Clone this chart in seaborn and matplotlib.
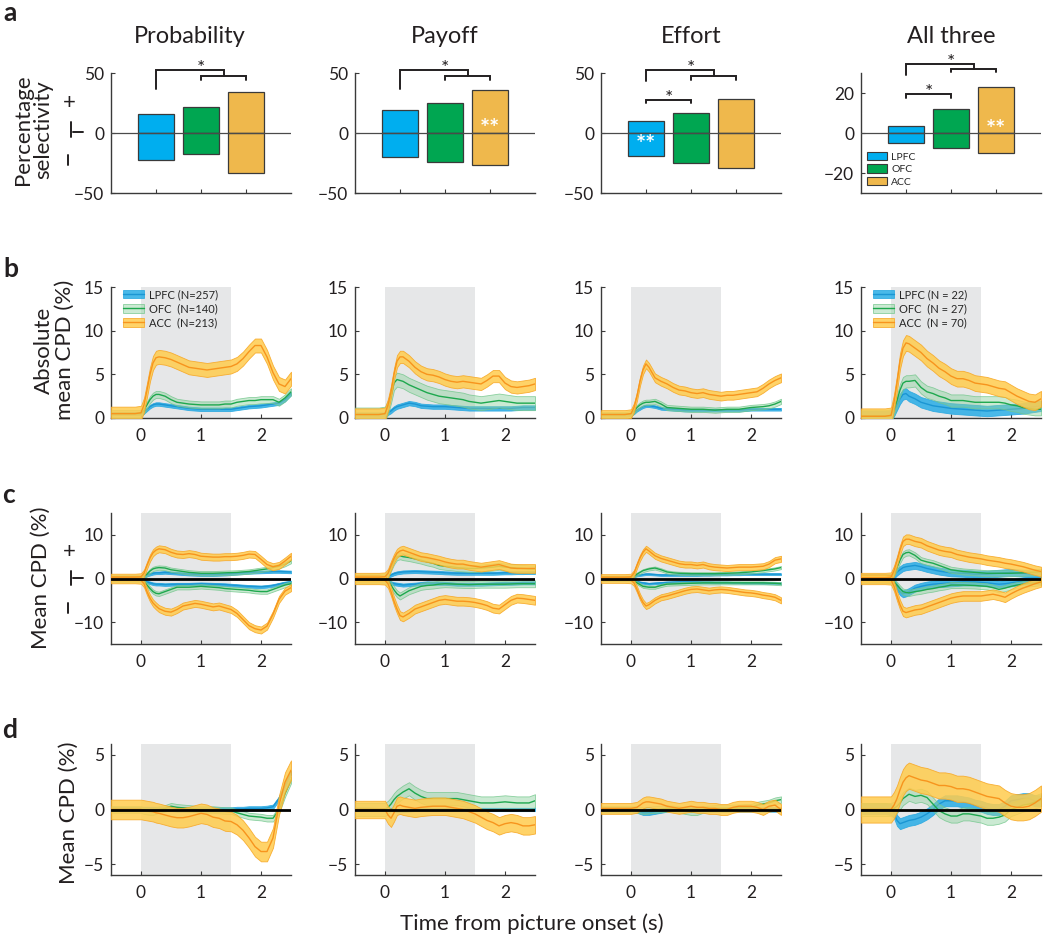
import numpy as np
import pandas as pd
import matplotlib
matplotlib.use("Agg")
import matplotlib.pyplot as plt
import seaborn as sns
from matplotlib.patches import Patch
from matplotlib.lines import Line2D

# ---------------- data ----------------
regions = ["LPFC", "OFC", "ACC"]
attributes = ["Probability", "Payoff", "Effort", "All three"]

# row a: percentage selectivity (+ / -)
sel_prob_pos = [16.0, 22.0, 34.5]
sel_prob_neg = [-22.7, -17.7, -33.0]
sel_pay_pos = [19.5, 25.3, 36.0]
sel_pay_neg = [-19.7, -23.8, -26.5]
sel_eff_pos = [10.0, 16.7, 28.6]
sel_eff_neg = [-18.8, -25.3, -29.4]
sel_all_pos = [3.5, 12.2, 23.0]
sel_all_neg = [-5.1, -7.3, -10.0]

# time axis (s from picture onset)
T = [-0.5, -0.3, -0.1, 0.0, 0.05, 0.1, 0.15, 0.2, 0.25, 0.3,
     0.4, 0.5, 0.6, 0.7, 0.8, 0.9, 1.0, 1.1, 1.2, 1.3, 1.4, 1.5,
     1.6, 1.7, 1.8, 1.9, 2.0, 2.1, 2.2, 2.3, 2.4, 2.5]

# row b: absolute mean CPD (%)
b_prob_lpfc = [0.5,0.5,0.5,0.5,0.7,1.0,1.3,1.5,1.6,1.6, 1.5,1.4,1.3,1.2,1.1,1.05,1.0,1.0,1.0,1.0,1.0,1.0, 1.1,1.2,1.3,1.35,1.4,1.5,1.6,1.7,2.1,2.8]
b_prob_ofc = [0.5,0.5,0.5,0.5,0.9,1.5,2.1,2.5,2.7,2.7, 2.5,2.1,1.8,1.7,1.6,1.55,1.5,1.5,1.5,1.5,1.6,1.6, 1.8,1.9,2.0,2.0,2.1,2.1,2.1,1.8,2.3,3.0]
b_prob_acc = [0.5,0.5,0.5,0.6,1.5,3.2,5.0,6.3,6.9,7.0, 6.9,6.7,6.4,6.1,5.8,5.7,5.6,5.5,5.6,5.7,5.8,5.9, 6.2,6.8,7.6,8.3,8.3,7.0,5.2,3.9,3.6,4.5]
b_pay_lpfc = [0.4,0.4,0.4,0.4,0.6,0.8,1.1,1.3,1.4,1.5, 1.7,1.6,1.4,1.35,1.3,1.3,1.3,1.25,1.2,1.15,1.1,1.1, 1.1,1.1,1.1,1.1,1.1,1.1,1.15,1.2,1.2,1.2]
b_pay_ofc = [0.4,0.4,0.4,0.5,1.2,2.5,4.0,4.4,4.3,4.2, 3.8,3.5,3.2,2.9,2.7,2.5,2.4,2.3,2.2,2.1,1.9,1.8, 1.7,1.8,1.9,2.0,1.9,1.8,1.7,1.7,1.7,1.7]
b_pay_acc = [0.4,0.4,0.4,0.5,1.5,3.0,5.0,6.5,7.0,7.0, 6.5,5.8,5.3,5.0,4.9,4.7,4.4,4.2,4.1,4.2,4.1,4.0, 3.9,4.3,4.8,4.8,4.0,3.6,3.5,3.6,3.7,3.9]
b_eff_lpfc = [0.4,0.4,0.4,0.4,0.6,0.9,1.1,1.3,1.4,1.4, 1.3,1.1,1.05,1.0,0.95,0.9,0.9,0.9,0.9,0.9,0.9,0.9, 0.9,0.9,0.9,0.95,1.0,1.0,1.0,1.0,1.0,1.0]
b_eff_ofc = [0.4,0.4,0.4,0.5,0.8,1.2,1.5,1.7,1.8,1.8, 1.9,1.6,1.2,1.15,1.1,1.05,1.0,1.0,1.0,0.95,0.9,0.95, 1.0,1.0,1.0,1.1,1.2,1.25,1.3,1.4,1.6,1.9]
b_eff_acc = [0.4,0.4,0.4,0.5,1.2,2.5,4.2,5.5,6.2,5.8, 4.6,4.2,3.9,3.5,3.2,3.1,2.9,2.8,2.9,2.7,2.6,2.5, 2.6,2.6,2.7,2.8,2.9,3.0,3.4,3.9,4.3,4.6]
b_all_lpfc = [0.2,0.2,0.2,0.3,0.8,1.5,2.2,2.7,2.8,2.5, 2.2,1.8,1.6,1.4,1.3,1.2,1.1,1.05,1.0,0.95,0.9,0.85, 0.8,0.85,0.9,0.95,1.0,1.05,1.1,1.2,1.3,1.4]
b_all_ofc = [0.2,0.2,0.2,0.3,1.0,2.0,3.2,4.0,4.2,4.2, 4.3,3.5,3.0,2.8,2.5,2.3,2.0,2.0,2.0,1.9,1.8,1.8, 1.8,1.8,1.8,1.7,1.5,1.4,1.2,1.1,1.0,1.0]
b_all_acc = [0.2,0.2,0.2,0.3,1.8,4.0,6.5,8.0,8.6,8.5, 8.0,7.5,6.8,6.3,5.7,5.3,4.8,4.5,4.5,4.3,4.0,3.9, 3.8,3.6,3.4,3.3,2.9,2.5,2.2,1.9,1.8,2.2]

# row c: mean CPD (%) of positive / negative neurons
c_prob_lpfc_pos = [0.3,0.3,0.3,0.3,0.5,0.8,1.0,1.2,1.3,1.3, 1.4,1.3,1.2,1.1,1.0,0.95,0.9,0.9,0.9,0.95,1.0,1.1, 1.2,1.3,1.4,1.45,1.5,1.55,1.6,1.6,1.55,1.5]
c_prob_lpfc_neg = [-0.3,-0.3,-0.3,-0.3,-0.5,-0.8,-1.0,-1.2,-1.3,-1.3, -1.4,-1.35,-1.3,-1.3,-1.3,-1.25,-1.2,-1.25,-1.3,-1.35,-1.4,-1.5, -1.6,-1.7,-1.8,-1.85,-1.9,-1.8,-1.6,-1.3,-1.0,-0.8]
c_prob_ofc_pos = [0.3,0.3,0.3,0.3,0.6,1.0,1.7,2.2,2.4,2.5, 2.4,2.0,1.8,1.6,1.4,1.3,1.2,1.2,1.2,1.25,1.3,1.35, 1.4,1.5,1.6,1.8,2.0,2.2,2.5,2.8,3.3,4.0]
c_prob_ofc_neg = [-0.3,-0.3,-0.3,-0.3,-0.8,-1.5,-2.3,-3.0,-3.4,-3.5, -3.0,-2.5,-2.0,-2.0,-2.0,-1.9,-1.8,-1.9,-2.0,-2.1,-2.3,-2.4, -2.5,-2.6,-2.7,-2.9,-3.0,-3.0,-2.5,-2.0,-1.5,-1.2]
c_prob_acc_pos = [0.3,0.3,0.3,0.4,1.2,3.0,4.7,5.9,6.5,6.8, 6.6,6.0,5.6,5.5,5.7,5.5,5.1,5.0,4.9,4.9,5.0,5.0, 5.1,5.3,5.6,5.5,4.4,3.2,2.7,3.0,4.0,5.1]
c_prob_acc_neg = [-0.3,-0.3,-0.3,-0.4,-1.2,-3.0,-4.5,-5.6,-6.3,-6.9, -7.5,-7.7,-7.1,-6.3,-6.0,-5.7,-5.9,-6.2,-6.5,-6.3,-6.7,-7.1, -8.0,-9.4,-10.8,-11.5,-11.8,-10.9,-8.2,-4.8,-2.9,-2.1]
c_pay_lpfc_pos = [0.3,0.3,0.3,0.3,0.5,0.8,1.1,1.3,1.4,1.5, 1.55,1.6,1.55,1.5,1.45,1.4,1.3,1.25,1.2,1.2,1.2,1.2, 1.2,1.2,1.2,1.25,1.3,1.3,1.35,1.35,1.4,1.4]
c_pay_lpfc_neg = [-0.3,-0.3,-0.3,-0.3,-0.6,-1.0,-1.2,-1.3,-1.4,-1.5, -1.4,-1.3,-1.15,-1.0,-1.05,-1.1,-1.1,-1.2,-1.3,-1.3,-1.3,-1.3, -1.3,-1.25,-1.2,-1.15,-1.1,-1.1,-1.05,-1.0,-1.0,-1.0]
c_pay_ofc_pos = [0.3,0.3,0.3,0.3,1.0,2.5,4.0,5.0,5.2,5.0, 4.8,4.5,4.2,3.8,3.5,3.0,2.8,2.7,2.5,2.4,2.3,2.3, 2.4,2.5,2.6,2.8,2.6,2.5,2.4,2.3,2.2,2.2]
c_pay_ofc_neg = [-0.3,-0.3,-0.3,-0.3,-0.7,-1.5,-2.6,-3.5,-4.0,-3.6, -2.8,-2.3,-1.8,-1.6,-1.5,-1.3,-1.2,-1.25,-1.3,-1.35,-1.4,-1.35, -1.3,-1.3,-1.3,-1.3,-1.3,-1.25,-1.2,-1.2,-1.2,-1.2]
c_pay_acc_pos = [0.3,0.3,0.3,0.4,1.2,3.0,4.6,5.8,6.3,6.5, 6.0,5.5,5.0,4.8,4.5,4.2,3.8,3.5,3.3,3.3,3.0,2.8, 2.6,2.8,3.0,3.2,2.8,2.4,2.3,2.3,2.3,2.3]
c_pay_acc_neg = [-0.3,-0.3,-0.3,-0.4,-1.2,-3.0,-5.2,-7.0,-8.5,-8.8, -8.0,-7.0,-6.5,-6.0,-5.5,-5.0,-4.8,-5.0,-5.2,-5.2,-5.3,-5.5, -5.8,-6.2,-6.8,-7.0,-6.0,-5.0,-4.5,-4.6,-4.8,-5.0]
c_eff_lpfc_pos = [0.3,0.3,0.3,0.3,0.5,0.7,0.8,0.9,1.0,1.0, 0.9,0.8,0.8,0.8,0.8,0.8,0.8,0.8,0.85,0.85,0.9,0.9, 0.9,0.95,0.95,1.0,1.0,1.0,1.0,1.0,1.0,1.0]
c_eff_lpfc_neg = [-0.3,-0.3,-0.3,-0.3,-0.5,-0.7,-0.9,-1.0,-1.1,-1.2, -1.1,-1.0,-0.9,-0.85,-0.8,-0.8,-0.8,-0.8,-0.85,-0.85,-0.9,-0.9, -0.9,-0.95,-0.95,-1.0,-1.0,-1.0,-1.05,-1.05,-1.1,-1.1]
c_eff_ofc_pos = [0.3,0.3,0.3,0.3,0.6,1.0,1.4,1.8,2.0,2.2, 2.4,2.0,1.5,1.3,1.2,1.15,1.1,1.1,1.1,1.1,1.1,1.15, 1.2,1.25,1.3,1.4,1.5,1.65,1.8,2.0,2.2,2.5]
c_eff_ofc_neg = [-0.3,-0.3,-0.3,-0.3,-0.6,-1.0,-1.4,-1.8,-1.9,-2.0, -2.0,-1.6,-1.3,-1.25,-1.2,-1.15,-1.1,-1.05,-1.0,-1.0,-1.0,-1.0, -1.0,-1.0,-1.0,-1.0,-1.0,-1.0,-1.0,-1.05,-1.1,-1.2]
c_eff_acc_pos = [0.3,0.3,0.3,0.4,1.2,3.0,4.7,6.0,6.8,6.3, 5.2,4.6,4.2,3.8,3.4,3.2,3.2,3.0,3.2,2.8,2.6,2.5, 2.4,2.5,2.6,2.6,2.6,2.7,2.8,3.3,4.2,4.5]
c_eff_acc_neg = [-0.3,-0.3,-0.3,-0.4,-1.0,-2.5,-4.2,-5.5,-6.3,-6.0, -5.0,-4.3,-4.0,-3.6,-3.2,-2.8,-2.5,-2.4,-2.6,-2.8,-2.6,-2.5, -2.6,-2.8,-3.0,-3.2,-3.3,-3.5,-3.8,-4.0,-4.3,-5.0]
c_all_lpfc_pos = [0.2,0.2,0.2,0.3,0.8,1.5,2.0,2.5,2.7,2.8, 3.0,2.7,2.3,2.0,1.7,1.5,1.3,1.25,1.2,1.1,1.0,1.0, 1.0,1.1,1.2,1.3,1.4,1.3,1.2,1.1,1.05,1.0]
c_all_lpfc_neg = [-0.2,-0.2,-0.2,-0.3,-1.0,-2.0,-3.0,-3.5,-3.3,-3.0, -2.2,-1.8,-1.5,-1.3,-1.2,-1.1,-1.0,-0.9,-0.8,-0.8,-0.8,-0.9, -1.0,-1.15,-1.3,-1.2,-1.0,-0.8,-0.6,-0.5,-0.45,-0.4]
c_all_ofc_pos = [0.2,0.2,0.2,0.3,1.2,2.5,4.2,5.5,5.9,6.0, 5.3,4.2,3.8,3.5,3.0,2.5,2.0,1.8,1.6,1.5,1.4,1.3, 1.2,1.2,1.2,1.2,1.2,1.25,1.3,1.4,1.45,1.5]
c_all_ofc_neg = [-0.2,-0.2,-0.2,-0.3,-0.8,-1.5,-2.3,-3.0,-3.2,-3.3, -3.0,-2.8,-2.5,-2.3,-2.0,-1.8,-1.5,-1.5,-1.5,-1.55,-1.6,-1.7, -1.8,-2.1,-2.5,-2.2,-1.8,-1.5,-1.3,-1.1,-1.0,-0.8]
c_all_acc_pos = [0.2,0.2,0.2,0.3,1.8,4.0,6.5,8.5,9.0,9.0, 8.5,8.2,7.5,7.0,6.5,6.2,6.0,5.5,5.2,4.9,4.7,4.5, 4.2,4.0,3.8,3.5,3.3,3.0,2.7,2.3,1.9,1.6]
c_all_acc_neg = [-0.2,-0.2,-0.2,-0.3,-1.8,-4.0,-6.0,-7.5,-7.8,-7.6, -7.2,-7.0,-6.5,-6.0,-5.5,-5.0,-4.5,-4.2,-4.0,-4.0,-4.0,-4.0, -3.8,-3.6,-3.9,-4.3,-3.5,-2.8,-2.2,-1.7,-1.2,-0.8]

# row d: mean CPD (%)
d_prob_lpfc = [0.05,0.05,0.05,0.05,0.05,0.05,0.05,0.05,0.05,0.05, 0.05,0.05,0.0,0.0,0.0,0.0,0.0,0.0,0.0,0.0,0.0,0.0, 0.05,0.05,0.1,0.1,0.1,0.15,0.25,1.0,2.2,3.4]
d_prob_ofc = [0.0,0.0,0.0,0.0,-0.1,-0.15,-0.2,-0.2,-0.1,0.0, 0.1,0.3,0.2,0.15,0.1,0.05,0.0,0.0,0.0,-0.05,-0.1,-0.1, -0.3,-0.45,-0.6,-0.65,-0.7,-0.8,-0.8,-0.05,1.45,2.7]
d_prob_acc = [0.0,0.0,0.0,0.0,-0.05,-0.1,-0.15,-0.2,-0.3,-0.35, -0.5,-0.65,-0.75,-0.75,-0.65,-0.5,-0.35,-0.45,-0.7,-0.8,-1.05,-1.1, -1.4,-1.9,-2.6,-3.4,-3.85,-3.85,-2.6,0.4,2.5,3.6]
d_pay_lpfc = [0.05,0.05,0.0,0.0,0.0,0.0,-0.05,-0.1,-0.1,-0.1, -0.05,0.0,0.0,0.0,0.0,0.0,0.0,0.0,0.0,0.0,0.0,0.0, 0.0,0.0,0.0,0.0,0.0,0.0,0.0,0.0,0.0,0.0]
d_pay_ofc = [0.0,0.0,0.0,0.0,0.2,0.5,0.9,1.2,1.4,1.6, 1.9,1.5,1.2,1.0,1.0,1.0,1.0,1.0,1.0,0.9,0.8,0.7, 0.6,0.6,0.6,0.65,0.7,0.65,0.6,0.6,0.6,0.8]
d_pay_acc = [0.0,0.0,0.0,0.0,-0.5,-0.8,-0.3,0.3,0.4,0.3, 0.2,0.1,0.2,0.25,0.3,0.3,0.3,0.2,0.1,0.0,-0.2,-0.4, -0.7,-1.0,-1.2,-1.5,-1.3,-1.2,-1.3,-1.5,-1.5,-1.4]
d_eff_lpfc = [0.0,0.0,0.0,0.0,-0.05,-0.1,-0.2,-0.3,-0.3,-0.3, -0.2,-0.1,0.0,0.0,0.0,0.0,0.0,0.0,0.0,0.0,0.0,0.0, 0.0,0.0,0.0,0.0,0.0,0.0,0.0,0.0,0.0,0.0]
d_eff_ofc = [0.0,0.0,0.0,0.0,0.0,0.0,-0.05,-0.1,-0.1,-0.05, 0.0,0.05,0.1,0.05,0.0,-0.1,-0.2,-0.2,0.0,0.05,0.1,0.1, 0.1,0.15,0.15,0.2,0.2,0.4,0.5,0.6,0.8,0.9]
d_eff_acc = [0.1,0.1,0.1,0.1,0.15,0.2,0.4,0.6,0.7,0.7, 0.6,0.5,0.3,0.2,0.1,0.2,0.3,0.2,0.2,0.1,0.1,0.0, 0.0,0.2,0.3,0.3,0.3,0.2,0.0,0.3,0.4,0.0]
d_all_lpfc = [0.1,0.1,0.1,0.0,-0.3,-1.0,-1.3,-1.2,-1.1,-1.0, -0.9,-0.7,-0.4,0.0,0.5,0.8,0.8,0.8,0.7,0.6,0.4,0.3, 0.1,0.0,0.0,0.3,0.8,0.9,1.0,1.0,0.8,0.8]
d_all_ofc = [0.0,0.0,0.0,0.0,0.1,0.3,0.6,1.0,1.2,1.4, 1.2,1.3,1.1,0.5,-0.1,-0.4,-0.6,-0.6,-0.4,-0.4,-0.5,-0.6, -0.8,-0.8,-0.7,-0.5,0.0,0.2,0.4,0.5,0.7,0.9]
d_all_acc = [0.0,0.0,0.0,0.0,0.4,1.0,1.8,2.5,2.9,3.1, 2.9,2.7,2.6,2.4,2.2,2.2,2.1,1.9,1.9,1.8,1.6,1.4, 1.2,1.1,1.0,0.6,0.3,0.2,0.2,0.3,0.6,1.0]

# s.e.m. half-widths per attribute (Probability, Payoff, Effort, All three)
err_b_lpfc = [0.2, 0.25, 0.15, 0.6]
err_b_ofc = [0.4, 0.8, 0.3, 0.7]
err_b_acc = [0.8, 0.7, 0.5, 0.9]
err_c_lpfc = [0.3, 0.35, 0.2, 0.8]
err_c_ofc = [0.5, 0.8, 0.35, 0.7]
err_c_acc = [0.8, 1.0, 0.7, 1.1]
err_d_lpfc = [0.2, 0.15, 0.2, 0.5]
err_d_ofc = [0.3, 0.6, 0.3, 0.6]
err_d_acc = [0.9, 0.8, 0.5, 1.2]

legend_prob = ["LPFC (N=257)", "OFC  (N=140)", "ACC  (N=213)"]
legend_all = ["LPFC (N = 22)", "OFC  (N = 27)", "ACC  (N = 70)"]

# ---------------- assemble ----------------
sel_pos = [sel_prob_pos, sel_pay_pos, sel_eff_pos, sel_all_pos]
sel_neg = [sel_prob_neg, sel_pay_neg, sel_eff_neg, sel_all_neg]
row_b = [[b_prob_lpfc, b_prob_ofc, b_prob_acc], [b_pay_lpfc, b_pay_ofc, b_pay_acc],
         [b_eff_lpfc, b_eff_ofc, b_eff_acc], [b_all_lpfc, b_all_ofc, b_all_acc]]
row_c_pos = [[c_prob_lpfc_pos, c_prob_ofc_pos, c_prob_acc_pos], [c_pay_lpfc_pos, c_pay_ofc_pos, c_pay_acc_pos],
             [c_eff_lpfc_pos, c_eff_ofc_pos, c_eff_acc_pos], [c_all_lpfc_pos, c_all_ofc_pos, c_all_acc_pos]]
row_c_neg = [[c_prob_lpfc_neg, c_prob_ofc_neg, c_prob_acc_neg], [c_pay_lpfc_neg, c_pay_ofc_neg, c_pay_acc_neg],
             [c_eff_lpfc_neg, c_eff_ofc_neg, c_eff_acc_neg], [c_all_lpfc_neg, c_all_ofc_neg, c_all_acc_neg]]
row_d = [[d_prob_lpfc, d_prob_ofc, d_prob_acc], [d_pay_lpfc, d_pay_ofc, d_pay_acc],
         [d_eff_lpfc, d_eff_ofc, d_eff_acc], [d_all_lpfc, d_all_ofc, d_all_acc]]
err_b = [err_b_lpfc, err_b_ofc, err_b_acc]
err_c = [err_c_lpfc, err_c_ofc, err_c_acc]
err_d = [err_d_lpfc, err_d_ofc, err_d_acc]

# ---------------- style ----------------
sns.set_theme(style="ticks")
plt.rcParams['font.family'] = ['Lato', 'DejaVu Sans']
plt.rcParams['axes.unicode_minus'] = True
INK = '#231f20'

BAR_COL = {"LPFC": "#00aeef", "OFC": "#00a651", "ACC": "#efb84c"}
FILL = {"LPFC": (0.16, 0.68, 0.90, 0.85), "OFC": (0.55, 0.82, 0.62, 0.45), "ACC": (1.0, 0.80, 0.30, 0.85)}
EDGE = {"LPFC": (0.16, 0.66, 0.88, 0.9), "OFC": (0.45, 0.78, 0.55, 0.8), "ACC": (0.97, 0.66, 0.15, 0.9)}
LINE = {"LPFC": "#1b96d3", "OFC": "#1ea84e", "ACC": "#f7941d"}
ZO = {"LPFC": 3, "OFC": 4, "ACC": 5}
SHADE = '#e6e7e8'

W, H = 1050.0, 936.0
col_left = [111, 355, 601, 861]
row_top = [73, 287, 513, 744]
row_h = [120, 131, 131, 131]
AW = 180


def rect(c, r):
    return [col_left[c] / W, 1 - (row_top[r] + row_h[r]) / H, AW / W, row_h[r] / H]


def style_axis(ax):
    sns.despine(ax=ax)
    for s in ['left', 'bottom']:
        ax.spines[s].set_color('#3a3a3a')
        ax.spines[s].set_linewidth(1.0)
    ax.tick_params(direction='in', length=3, width=0.8, color='#3a3a3a',
                   labelcolor=INK, labelsize=12.5, pad=5)
    ax.set_xlabel('')
    ax.set_ylabel('')
    ax.set_facecolor('none')


def sign_marks(ax, r):
    """'+ | -' decoration beside the y axis (rows a and c)."""
    tr = ax.transAxes
    h = row_h[r]
    bot = row_top[r] + h
    if r == 0:
        yp, b0, b1, yz, m0, m1 = 103, 122, 137, 132, 155, 165
    else:
        yp, b0, b1, yz, m0, m1 = 552, 571, 585, 578, 603, 613
    f = lambda y: (bot - y) / h
    ax.text((69 - 111) / AW, f(yp), '+', transform=tr, ha='center', va='center',
            fontsize=16, color=INK, clip_on=False)
    ax.plot([(71 - 111) / AW] * 2, [f(b0), f(b1)], transform=tr, color=INK, lw=1.4, clip_on=False)
    ax.plot([(73 - 111) / AW, (83 - 111) / AW], [f(yz)] * 2, transform=tr, color=INK, lw=1.4, clip_on=False)
    ax.plot([(68 - 111) / AW] * 2, [f(m0), f(m1)], transform=tr, color=INK, lw=1.4, clip_on=False)


def bracket(ax, xs, ys):
    ax.plot(xs, ys, color=INK, lw=1.4, clip_on=False, zorder=6, solid_joinstyle='miter')


def star(ax, x, y, text='*', size=14, color=INK, weight='normal', dy=-3):
    ax.annotate(text, xy=(x, y), xytext=(0, dy), textcoords='offset points', ha='center',
                va='baseline', fontsize=size, color=color, fontweight=weight,
                annotation_clip=False, zorder=7)


fig = plt.figure(figsize=(10.5, 9.36), dpi=100)

# ---------------- row a ----------------
for i, attr in enumerate(attributes):
    ax = fig.add_axes(rect(i, 0))
    df = pd.DataFrame({'region': regions, 'pos': sel_pos[i], 'neg': sel_neg[i]})
    for col in ['pos', 'neg']:
        sns.barplot(data=df, x='region', y=col, hue='region', order=regions, hue_order=regions,
                    palette=BAR_COL, saturation=1, width=0.8, edgecolor='#3a3a3a', linewidth=0.9,
                    legend=False, ax=ax, zorder=2)
    ax.axhline(0, color='#4a4a4a', lw=0.9, zorder=3)
    ax.set_xlim(-1, 3)
    style_axis(ax)
    ax.set_xticks([0, 1, 2])
    ax.set_xticklabels([])
    if i < 3:
        ax.set_ylim(-50, 50)
        ax.set_yticks([-50, 0, 50])
    else:
        ax.set_ylim(-30, 30)
        ax.set_yticks([-20, 0, 20])
    tx = (190 - 111) / AW if i == 0 else 0.5
    ax.text(tx, (193 - 43) / 120, attr, transform=ax.transAxes, ha='center', va='baseline',
            fontsize=17, color=INK)
    if i in (0, 1, 2):
        leg0 = 36.7 if i < 2 else 43
        bracket(ax, [0, 0, 1.5, 1.5], [leg0, 52.6, 52.6, 47.6])
        bracket(ax, [1, 1, 2, 2], [44, 47.6, 47.6, 44])
        star(ax, 1.0, 52.6)
    if i == 2:
        bracket(ax, [0, 0, 1, 1], [24.7, 27.7, 27.7, 24.7])
        star(ax, 0.5, 27.7)
    if i == 3:
        bracket(ax, [0, 0, 1.5, 1.5], [28.9, 34.7, 34.7, 32.0])
        bracket(ax, [1, 1, 2, 2], [30.3, 32.0, 32.0, 30.3])
        star(ax, 1.0, 34.7)
        bracket(ax, [0, 0, 1, 1], [17.6, 19.6, 19.6, 17.6])
        star(ax, 0.5, 19.6)
        handles = [Patch(facecolor=BAR_COL[g], edgecolor='#3a3a3a', linewidth=0.8) for g in regions]
        ax.legend(handles, regions, loc='lower left', bbox_to_anchor=(0.0, 0.0), frameon=False,
                  fontsize=7.5, handlelength=1.9, handleheight=0.9, handletextpad=0.4,
                  labelspacing=0.25, borderaxespad=0.2)
    # white significance stars inside bars
    if i == 1:
        star(ax, 2, 5.8, text='**', size=17, color='white', weight='bold', dy=-8)
    if i == 2:
        star(ax, 0, -7.2, text='**', size=17, color='white', weight='bold', dy=-8)
    if i == 3:
        star(ax, 2, 3.3, text='**', size=17, color='white', weight='bold', dy=-8)
    if i == 0:
        sign_marks(ax, 0)


# ---------------- rows b, c, d ----------------
def draw_trace(ax, y, err, reg):
    y = np.asarray(y, dtype=float)
    ax.fill_between(T, y - err, y + err, facecolor=FILL[reg], edgecolor=EDGE[reg],
                    linewidth=0.6, zorder=ZO[reg])
    sns.lineplot(x=T, y=y, ax=ax, color=LINE[reg], lw=1.0, zorder=ZO[reg] + 0.5, legend=False)


for r in (1, 2, 3):
    for i, attr in enumerate(attributes):
        ax = fig.add_axes(rect(i, r))
        ax.axvspan(0, 1.5, color=SHADE, lw=0, zorder=0)
        for k, reg in enumerate(regions):
            if r == 1:
                draw_trace(ax, row_b[i][k], err_b[k][i], reg)
            elif r == 2:
                draw_trace(ax, row_c_pos[i][k], err_c[k][i], reg)
                draw_trace(ax, row_c_neg[i][k], err_c[k][i], reg)
            else:
                draw_trace(ax, row_d[i][k], err_d[k][i], reg)
        ax.set_xlim(-0.5, 2.5)
        style_axis(ax)
        ax.set_xticks([0, 1, 2])
        ax.tick_params(axis='x', pad=7)
        if r == 1:
            ax.set_ylim(0, 15)
            ax.set_yticks([0, 5, 10, 15])
        elif r == 2:
            ax.set_ylim(-15, 15)
            ax.set_yticks([-10, 0, 10])
            ax.axhline(0, color='black', lw=2.0, zorder=10)
        else:
            ax.set_ylim(-6, 6)
            ax.set_yticks([-5, 0, 5])
            ax.axhline(0, color='black', lw=2.0, zorder=10)
        if r == 1 and i in (0, 3):
            labs = legend_prob if i == 0 else legend_all
            hs = [(Patch(facecolor=FILL[g], edgecolor=EDGE[g], linewidth=0.6),
                   Line2D([], [], color=LINE[g], lw=1.0)) for g in regions]
            ax.legend(hs, labs, loc='upper left', bbox_to_anchor=(0.04, 1.02), frameon=False,
                      fontsize=8, handlelength=1.9, handleheight=0.8, handletextpad=0.5,
                      labelspacing=0.3, borderaxespad=0.0)
        if r == 2 and i == 0:
            sign_marks(ax, 2)

# ---------------- figure labels ----------------
fig.text(33 / W, 1 - 130 / H, 'Percentage\nselectivity', rotation=90, ha='center', va='center',
         fontsize=16, color=INK, linespacing=1.05)
fig.text(54 / W, 1 - 350 / H, 'Absolute\nmean CPD (%)', rotation=90, ha='center', va='center',
         fontsize=16, color=INK, linespacing=1.05)
fig.text(41 / W, 1 - 578 / H, 'Mean CPD (%)', rotation=90, ha='center', va='center',
         fontsize=16, color=INK)
fig.text(69 / W, 1 - 813 / H, 'Mean CPD (%)', rotation=90, ha='center', va='center',
         fontsize=16, color=INK)
fig.text(532 / W, 1 - 930 / H, 'Time from picture onset (s)', ha='center', va='baseline',
         fontsize=16, color=INK)
fig.text(3 / W, 1 - 1 / H, 'a', ha='left', va='top', fontsize=19, fontweight='bold', color=INK)
for letter, (lx, ly) in zip('bcd', [(3, 277), (2, 503), (2, 738)]):
    fig.text(lx / W, 1 - ly / H, letter, ha='left', va='baseline', fontsize=19,
             fontweight='bold', color=INK)

fig.savefig('out.png', dpi=100)
